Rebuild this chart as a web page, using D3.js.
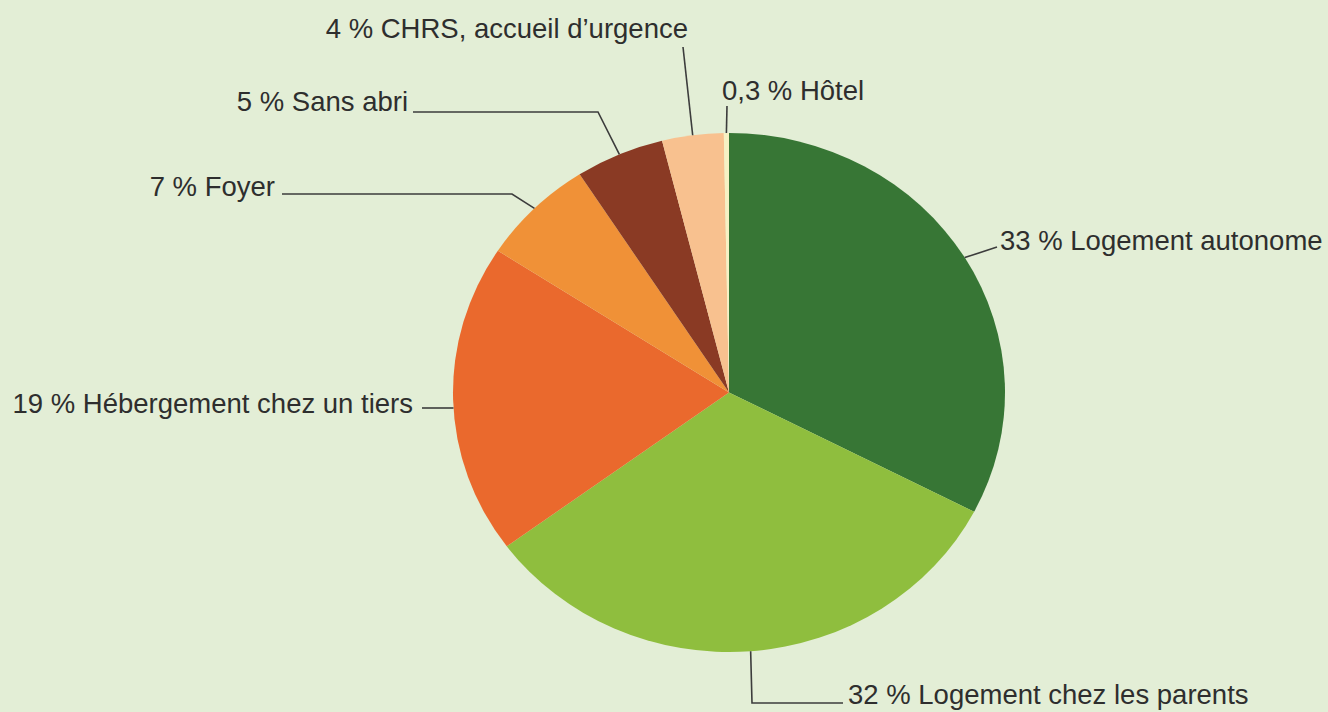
<!DOCTYPE html>
<html><head><meta charset="utf-8">
<script src="https://cdn.jsdelivr.net/npm/d3@7"></script>
<style>
html,body{margin:0;padding:0;background:#E3EED6;}
svg{display:block;}
</style></head>
<body>
<svg id="chart" width="1328" height="712"></svg>
<script>
// ---- data ----
const categories = ["Logement autonome","Logement chez les parents","Hébergement chez un tiers","Foyer","Sans abri","CHRS, accueil d\u2019urgence","Hôtel"];
// slice sizes (labels show the rounded figures)
const values = [32.6, 32.3, 19.3, 6.7, 5.2, 3.6, 0.3];
const valueLabels = ["33 %","32 %","19 %","7 %","5 %","4 %","0,3 %"];
const colors = ["#377635","#8FBE3E","#EA692D","#F09137","#8A3A24","#F8C18F","#F6F1C4"];

// ---- layout (positions of labels / leader elbows, not data) ----
const layout = [
  {tx:1000, ty:250, anchor:"start", elbow:[997,247], end:[997,247]},
  {tx:848, ty:704, anchor:"start", elbow:[752,703], end:[843,703]},
  {tx:413, ty:413, anchor:"end", elbow:null, end:[422,408], horiz:true},
  {tx:275, ty:196, anchor:"end", elbow:[512,194], end:[282,194]},
  {tx:408, ty:111, anchor:"end", elbow:[598,112], end:[413,112]},
  {tx:688, ty:38, anchor:"end", elbow:[683,47], end:[683,47]},
  {tx:722, ty:100, anchor:"start", elbow:[727,106], end:[727,106]}
];

const cx = 729, cy = 392.5, rx = 276, ry = 259.5;
const svg = d3.select("#chart");
svg.append("rect").attr("width",1328).attr("height",712).attr("fill","#E3EED6");

const pie = d3.pie().sort(null).value(d => d.v);
const data = categories.map((c,i)=>({c, v:values[i], lab:valueLabels[i], col:colors[i], lay:layout[i]}));
const arcs = pie(data);
const arc = d3.arc().innerRadius(0).outerRadius(rx);

const g = svg.append("g").attr("transform",`translate(${cx},${cy}) scale(1,${ry/rx})`);
g.selectAll("path").data(arcs).join("path")
  .attr("d", arc).attr("fill", d=>d.data.col);

function edgePoint(a){ return [cx + rx*Math.sin(a), cy - ry*Math.cos(a)]; }

const lines = svg.append("g");
arcs.forEach(d=>{
  const L = d.data.lay;
  let p;
  const mid = (d.startAngle + d.endAngle)/2;
  if (L.horiz) {
    const yy = L.end[1];
    const t = (yy-cy)/ry;
    const sign = Math.sin(mid) < 0 ? -1 : 1;
    p = [cx + sign*rx*Math.sqrt(1-t*t), yy];
  } else {
    p = edgePoint(mid);
  }
  const pts = [p];
  if (L.elbow) pts.push(L.elbow);
  pts.push(L.end);
  lines.append("path")
    .attr("d", d3.line()(pts))
    .attr("fill","none").attr("stroke","#3c3c3c").attr("stroke-width",1.6);
  svg.append("text")
    .attr("x", L.tx).attr("y", L.ty)
    .attr("text-anchor", L.anchor)
    .attr("font-family","'Liberation Sans', Arial, sans-serif")
    .attr("font-size", 27.5)
    .attr("fill","#2e2e2e")
    .text(d.data.lab + " " + d.data.c);
});
</script>
</body></html>
